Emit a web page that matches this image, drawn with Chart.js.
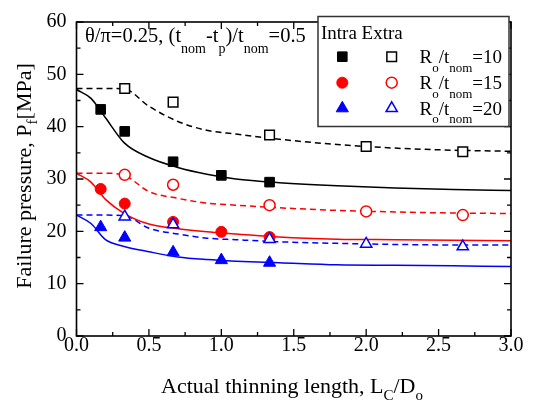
<!DOCTYPE html>
<html>
<head>
<meta charset="utf-8">
<script src="https://cdn.jsdelivr.net/npm/chart.js@4.4.1/dist/chart.umd.min.js"></script>
<style>
html,body{margin:0;padding:0;background:#fff;}
#wrap{width:534px;height:409px;}
</style>
</head>
<body>
<div id="wrap"><canvas id="c" width="534" height="409"></canvas></div>
<script>
// ---- data ----
const intraX = [0.167, 0.333, 0.667, 1.0, 1.333];
const extraX = [0.333, 0.667, 1.333, 2.0, 2.667];
const intraR10 = [43.3, 39.1, 33.3, 30.7, 29.4];
const extraR10 = [47.3, 44.7, 38.4, 36.2, 35.2];
const intraR15 = [28.1, 25.3, 21.8, 19.9, 18.9];
const extraR15 = [30.8, 28.9, 25.0, 23.8, 23.1];
const intraR20 = [20.8, 18.8, 16.0, 14.5, 14.0];
const extraR20 = [22.8, 21.3, 18.5, 17.6, 17.1];

const curveX      = [0, 0.1, 0.2, 0.33, 0.5, 0.7, 0.9, 1.1, 1.4, 1.8, 2.2, 2.6, 3.0];
const intraFit10  = [47.1, 45.4, 41.7, 36.9, 34.1, 32.2, 30.9, 30.0, 29.3, 28.7, 28.3, 28.0, 27.8];
const extraFit10  = [47.3, 47.3, 47.3, 47.2, 43.9, 41.0, 39.3, 38.6, 37.6, 36.6, 35.9, 35.5, 35.3];
const intraFit15  = [31.1, 29.4, 26.1, 23.4, 21.4, 20.5, 19.9, 19.5, 18.9, 18.5, 18.4, 18.3, 18.2];
const extraFit15  = [31.1, 31.1, 31.1, 30.7, 27.6, 26.3, 25.4, 25.0, 24.5, 24.0, 23.7, 23.5, 23.4];
const intraFit20  = [23.1, 21.5, 18.4, 17.1, 16.1, 15.1, 14.6, 14.3, 14.0, 13.6, 13.5, 13.4, 13.3];
const extraFit20  = [23.1, 23.1, 23.1, 23.0, 20.6, 19.5, 18.7, 18.4, 18.0, 17.7, 17.5, 17.4, 17.4];

const xTickLabels = ['0.0','0.5','1.0','1.5','2.0','2.5','3.0'];
const yTickLabels = ['0','10','20','30','40','50','60'];
const legendRatios = ['10','15','20'];

// ---- helpers ----
const pts = (xs, ys) => xs.map((x, i) => ({x: x, y: ys[i]}));
const SERIF = "'Liberation Serif', 'Times New Roman', serif";

function markerSet(xs, ys, style, color, filled, r, order) {
  return {
    type: 'line', data: pts(xs, ys), showLine: false, order: order,
    pointStyle: style, pointRadius: r, pointHoverRadius: r,
    pointBackgroundColor: filled ? color : '#fff',
    pointBorderColor: color, pointBorderWidth: filled ? 1 : 1.5
  };
}
function curveSet(ys, color, dashed) {
  return {
    type: 'line', data: pts(curveX, ys), order: 10,
    borderColor: color, borderWidth: 1.5, borderDash: dashed ? [6, 4] : [],
    pointRadius: 0, cubicInterpolationMode: 'monotone', fill: false
  };
}

function drawRich(ctx, parts, x, y, mainPx, subPx, subDy, align) {
  let w = 0;
  parts.forEach(p => {
    ctx.font = (p[1] ? subPx : mainPx) + 'px ' + SERIF;
    w += ctx.measureText(p[0]).width;
  });
  let cx = align === 'center' ? x - w / 2 : x;
  ctx.textAlign = 'left';
  ctx.textBaseline = 'alphabetic';
  parts.forEach(p => {
    ctx.font = (p[1] ? subPx : mainPx) + 'px ' + SERIF;
    ctx.fillText(p[0], cx, y + (p[1] ? subDy : 0));
    cx += ctx.measureText(p[0]).width;
  });
  return w;
}

const decorPlugin = {
  id: 'decor',
  afterDatasetsDraw(chart) {
    const ctx = chart.ctx;
    const a = chart.chartArea;
    const xs = chart.scales.x, ys = chart.scales.y;
    ctx.save();
    // frame
    ctx.strokeStyle = '#000';
    ctx.lineWidth = 1.6;
    ctx.strokeRect(a.left, a.top, a.right - a.left, a.bottom - a.top);
    // inward ticks on all sides
    ctx.lineWidth = 1.3;
    ctx.beginPath();
    for (let i = 0; i <= 12; i++) {
      const v = i * 0.25;
      const L = (i % 2 === 0) ? 7 : 4;
      const px = xs.getPixelForValue(v);
      ctx.moveTo(px, a.bottom); ctx.lineTo(px, a.bottom - L);
      ctx.moveTo(px, a.top); ctx.lineTo(px, a.top + L);
    }
    for (let i = 0; i <= 12; i++) {
      const v = i * 5;
      const L = (i % 2 === 0) ? 7 : 4;
      const py = ys.getPixelForValue(v);
      ctx.moveTo(a.left, py); ctx.lineTo(a.left + L, py);
      ctx.moveTo(a.right, py); ctx.lineTo(a.right - L, py);
    }
    ctx.stroke();

    ctx.fillStyle = '#000';
    // inner annotation
    drawRich(ctx, [['θ/π=0.25, (t',0],['nom',1],['-t',0],['p',1],[')/t',0],['nom',1],['=0.5',0]],
      85, 41.5, 20.5, 14, 11, 'left');

    // legend box
    const bx = 318, by = 16.5, bw = 191, bh = 110;
    ctx.fillStyle = '#fff';
    ctx.fillRect(bx, by, bw, bh);
    ctx.strokeStyle = '#333';
    ctx.lineWidth = 1.5;
    ctx.strokeRect(bx, by, bw, bh);
    ctx.fillStyle = '#000';
    drawRich(ctx, [['Intra Extra',0]], 321, 38.5, 19, 13, 0, 'left');
    const rows = [
      {y: 56.7, color: '#000', style: 'rect', r: 6.8},
      {y: 82.7, color: '#ff0000', style: 'circle', r: 5.5},
      {y: 108.3, color: '#0000ff', style: 'triangle', r: 7}
    ];
    rows.forEach((row, i) => {
      const opts = {pointStyle: row.style, radius: row.r, borderWidth: 1, rotation: 0};
      ctx.fillStyle = row.color; ctx.strokeStyle = row.color; ctx.lineWidth = 1;
      Chart.helpers.drawPoint(ctx, opts, 342.3, row.y);
      ctx.fillStyle = '#fff'; ctx.lineWidth = 1.5;
      Chart.helpers.drawPoint(ctx, {pointStyle: row.style, radius: row.style === 'triangle' ? 6.5 : row.r, borderWidth: 1.5, rotation: 0}, 391.7, row.y);
      ctx.fillStyle = '#000';
      drawRich(ctx, [['R',0],['o',1],['/t',0],['nom',1],['='+legendRatios[i],0]],
        419.5, row.y + 6.6, 19, 13, 8.5, 'left');
    });

    // x axis title
    drawRich(ctx, [['Actual thinning length, L',0],['C',1],['/D',0],['o',1]],
      292, 393, 22, 15, 7, 'center');
    // y axis title (rotated)
    ctx.save();
    ctx.translate(31, 176);
    ctx.rotate(-Math.PI / 2);
    drawRich(ctx, [['Failure pressure, P',0],['f',1],['[MPa]',0]], 0, 0, 22, 15, 6, 'center');
    ctx.restore();
    ctx.restore();
  }
};

new Chart(document.getElementById('c'), {
  type: 'line',
  data: {
    datasets: [
      markerSet(extraX, extraR20, 'triangle', '#0000ff', false, 6.5, 0),
      markerSet(intraX, intraR20, 'triangle', '#0000ff', true, 7, 1),
      markerSet(extraX, extraR15, 'circle', '#ff0000', false, 5.5, 2),
      markerSet(intraX, intraR15, 'circle', '#ff0000', true, 5.5, 3),
      markerSet(extraX, extraR10, 'rect', '#000000', false, 6.8, 4),
      markerSet(intraX, intraR10, 'rect', '#000000', true, 6.8, 5),
      curveSet(intraFit10, '#000000', false),
      curveSet(extraFit10, '#000000', true),
      curveSet(intraFit15, '#ff0000', false),
      curveSet(extraFit15, '#ff0000', true),
      curveSet(intraFit20, '#0000ff', false),
      curveSet(extraFit20, '#0000ff', true)
    ]
  },
  options: {
    responsive: false,
    animation: false,
    devicePixelRatio: 1,
    layout: {padding: {top: 16.5, right: 23, left: 0, bottom: 0}},
    plugins: {legend: {display: false}, tooltip: {enabled: false}},
    events: [],
    scales: {
      x: {
        type: 'linear', min: 0, max: 3,
        grid: {display: false, drawTicks: false},
        border: {display: false},
        ticks: {
          stepSize: 0.5, padding: 0, color: '#000',
          font: {family: SERIF, size: 20, lineHeight: 1},
          maxRotation: 0, autoSkip: false,
          callback: (v) => xTickLabels[Math.round(v / 0.5)]
        },
        afterFit: (s) => { s.height = 73; }
      },
      y: {
        type: 'linear', min: 0, max: 60,
        grid: {display: false, drawTicks: false},
        border: {display: false},
        ticks: {
          stepSize: 10, padding: 10, color: '#000',
          font: {family: SERIF, size: 20},
          callback: (v) => yTickLabels[Math.round(v / 10)]
        },
        afterFit: (s) => { s.width = 76.5; }
      }
    }
  },
  plugins: [decorPlugin]
});
</script>
</body>
</html>
